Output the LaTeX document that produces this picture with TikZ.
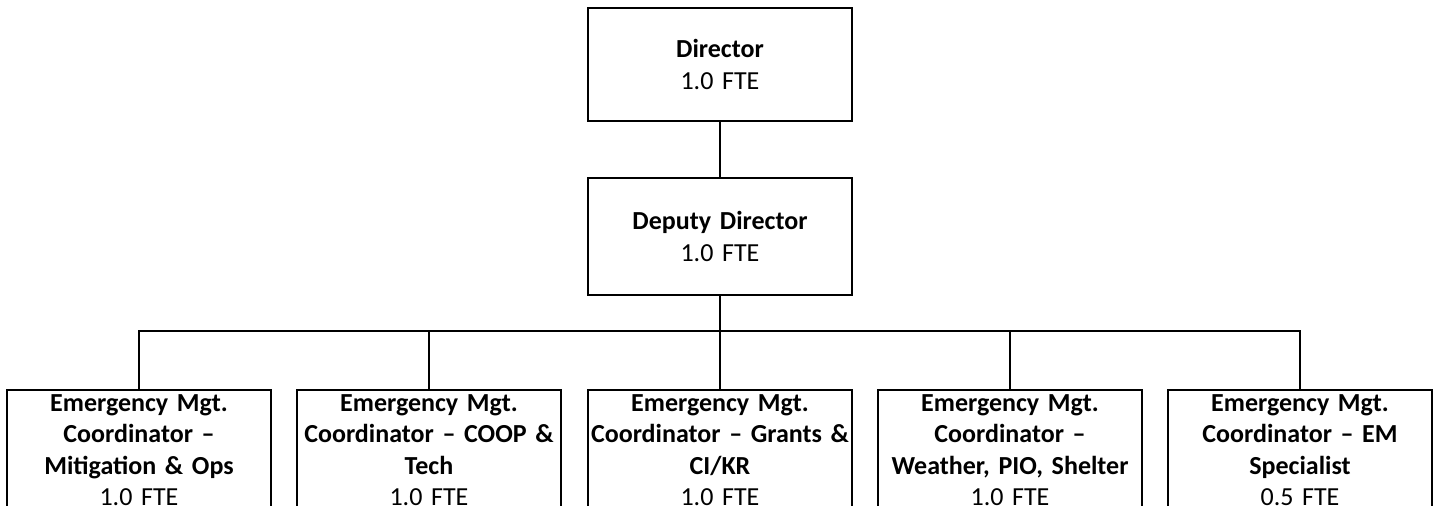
\documentclass[tikz,border=0pt]{standalone}
\usepackage{fontspec}
\setmainfont{Carlito}[WordSpace=0.85]
\begin{document}
\begin{tikzpicture}[x=0.5pt,y=-0.5pt,
        box/.style={draw,line width=0.9pt,minimum width=132pt,text width=130pt,
            align=center,inner xsep=1pt,font=\fontsize{13}{15.75}\selectfont},
        unit/.style={box,anchor=north,inner ysep=2.3pt},
        link/.style={line width=0.75pt}]
        \useasboundingbox (0,0) rectangle (1438,506);
        \clip (0,0) rectangle (1438,506);

        \node[box,minimum height=56.5pt] (dir) at (720,64.5) {\textbf{Director}\\1.0 FTE};
        \node[box,minimum height=58.5pt] (dep) at (720,236.5) {\textbf{Deputy Director}\\1.0 FTE};

        \node[unit] (mit) at (139,389) {{\bfseries Emergency Mgt.\\Coordinator –\\Mitigation \& Ops}\\1.0 FTE};
        \node[unit] (coop) at (429,389) {{\bfseries Emergency Mgt.\\Coordinator – COOP \&\\Tech}\\1.0 FTE};
        \node[unit] (grants) at (720,389) {{\bfseries Emergency Mgt.\\Coordinator – Grants \&\\CI/KR}\\1.0 FTE};
        \node[unit] (pio) at (1010,389) {{\bfseries Emergency Mgt.\\Coordinator –\\Weather, PIO, Shelter}\\1.0 FTE};
        \node[unit] (spec) at (1300,389) {{\bfseries Emergency Mgt.\\Coordinator – EM\\Specialist}\\0.5 FTE};

        \coordinate (bus) at (720,331);

        \draw[link] (dir.south) -- (dep.north);
        \draw[line width=1.3pt] (dep.south) -- (bus);
        \draw[link] (mit.north) -- (mit.north |- bus) -- (spec.north |- bus) -- (spec.north);
        \foreach \n in {coop,grants,pio}
            \draw[link] (\n.north) -- (\n.north |- bus);
    \end{tikzpicture}
\end{document}
